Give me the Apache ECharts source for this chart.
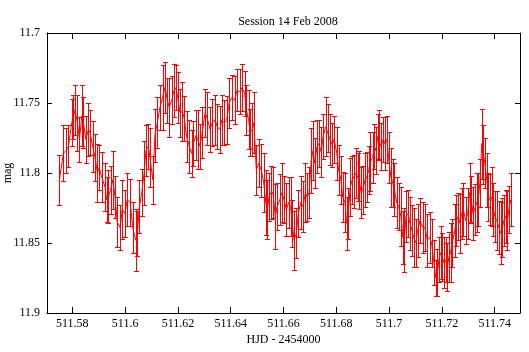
<!DOCTYPE html>
<html>
<head>
<meta charset="utf-8">
<script src="https://cdn.jsdelivr.net/npm/echarts@6/dist/echarts.min.js"></script>
<style>
  html, body { margin: 0; padding: 0; background: #fff; }
  #chart { width: 529px; height: 352px; }
</style>
</head>
<body>
<div id="chart"></div>
<script>
// HJD - 2454000
const hjd = [
  511.5751, 511.5766, 511.5776, 511.5785, 511.5798, 511.5804, 511.5810, 511.5819, 511.5827, 511.5836,
  511.5842, 511.5851, 511.5861, 511.5867, 511.5877, 511.5886, 511.5895, 511.5902, 511.5911, 511.5924,
  511.5930, 511.5936, 511.5945, 511.5953, 511.5962, 511.5970, 511.5981, 511.5989, 511.6000, 511.6008,
  511.6019, 511.6029, 511.6040, 511.6046, 511.6054, 511.6063, 511.6072, 511.6079, 511.6088, 511.6094,
  511.6105, 511.6113, 511.6122, 511.6132, 511.6142, 511.6151, 511.6160, 511.6167, 511.6177, 511.6185,
  511.6193, 511.6199, 511.6208, 511.6217, 511.6224, 511.6233, 511.6243, 511.6252, 511.6258, 511.6269,
  511.6275, 511.6284, 511.6292, 511.6303, 511.6311, 511.6322, 511.6330, 511.6341, 511.6349, 511.6359,
  511.6366, 511.6375, 511.6385, 511.6394, 511.6404, 511.6415, 511.6424, 511.6434, 511.6443, 511.6453,
  511.6459, 511.6468, 511.6474, 511.6482, 511.6488, 511.6497, 511.6506, 511.6516, 511.6525, 511.6533,
  511.6539, 511.6545, 511.6552, 511.6560, 511.6569, 511.6576, 511.6586, 511.6594, 511.6602, 511.6611,
  511.6620, 511.6627, 511.6633, 511.6640, 511.6649, 511.6656, 511.6665, 511.6674, 511.6683, 511.6689,
  511.6697, 511.6705, 511.6712, 511.6718, 511.6727, 511.6734, 511.6743, 511.6750, 511.6760, 511.6767,
  511.6776, 511.6784, 511.6792, 511.6802, 511.6809, 511.6818, 511.6824, 511.6833, 511.6839, 511.6845,
  511.6853, 511.6860, 511.6866, 511.6875, 511.6881, 511.6887, 511.6894, 511.6900, 511.6909, 511.6915,
  511.6923, 511.6929, 511.6938, 511.6944, 511.6950, 511.6957, 511.6963, 511.6969, 511.6978, 511.6984,
  511.6992, 511.6998, 511.7007, 511.7014, 511.7020, 511.7029, 511.7036, 511.7045, 511.7052, 511.7058,
  511.7064, 511.7072, 511.7079, 511.7087, 511.7093, 511.7102, 511.7108, 511.7117, 511.7128, 511.7136,
  511.7145, 511.7154, 511.7161, 511.7170, 511.7177, 511.7183, 511.7189, 511.7195, 511.7202, 511.7208,
  511.7214, 511.7220, 511.7227, 511.7233, 511.7239, 511.7249, 511.7255, 511.7262, 511.7269, 511.7275,
  511.7281, 511.7290, 511.7298, 511.7305, 511.7311, 511.7318, 511.7324, 511.7332, 511.7338, 511.7344,
  511.7351, 511.7357, 511.7363, 511.7370, 511.7376, 511.7381, 511.7389, 511.7395, 511.7401, 511.7408,
  511.7416, 511.7423, 511.7429, 511.7435, 511.7442, 511.7448, 511.7454, 511.7461
];
const mag = [
  11.805, 11.786, 11.784, 11.781, 11.764, 11.760, 11.755, 11.764, 11.776, 11.759,
  11.764, 11.776, 11.769, 11.771, 11.781, 11.789, 11.800, 11.796, 11.803, 11.810,
  11.819, 11.817, 11.812, 11.805, 11.817, 11.835, 11.839, 11.826, 11.829, 11.819,
  11.821, 11.839, 11.848, 11.843, 11.824, 11.814, 11.800, 11.784, 11.781, 11.789,
  11.805, 11.773, 11.764, 11.753, 11.746, 11.739, 11.748, 11.753, 11.748, 11.741,
  11.739, 11.746, 11.757, 11.756, 11.761, 11.774, 11.781, 11.786, 11.779, 11.773,
  11.776, 11.781, 11.771, 11.757, 11.761, 11.769, 11.764, 11.762, 11.767, 11.769,
  11.762, 11.764, 11.762, 11.750, 11.746, 11.748, 11.741, 11.742, 11.739, 11.743,
  11.755, 11.762, 11.771, 11.769, 11.764, 11.798, 11.793, 11.798, 11.807, 11.821,
  11.826, 11.817, 11.814, 11.814, 11.831, 11.824, 11.819, 11.814, 11.819, 11.826,
  11.821, 11.824, 11.836, 11.848, 11.843, 11.829, 11.821, 11.824, 11.814, 11.817,
  11.814, 11.791, 11.784, 11.793, 11.781, 11.779, 11.785, 11.774, 11.767, 11.768,
  11.776, 11.780, 11.776, 11.786, 11.798, 11.805, 11.817, 11.821, 11.836, 11.829,
  11.810, 11.805, 11.806, 11.800, 11.803, 11.805, 11.814, 11.812, 11.805, 11.803,
  11.798, 11.792, 11.789, 11.781, 11.784, 11.774, 11.773, 11.781, 11.776, 11.779,
  11.776, 11.789, 11.803, 11.807, 11.812, 11.821, 11.824, 11.831, 11.846, 11.848,
  11.831, 11.829, 11.836, 11.841, 11.846, 11.850, 11.841, 11.834, 11.839, 11.839,
  11.848, 11.846, 11.850, 11.864, 11.875, 11.871, 11.862, 11.857, 11.860, 11.864,
  11.862, 11.867, 11.860, 11.857, 11.850, 11.841, 11.834, 11.831, 11.836, 11.829,
  11.826, 11.834, 11.829, 11.814, 11.819, 11.829, 11.826, 11.821, 11.819, 11.807,
  11.779, 11.787, 11.793, 11.805, 11.817, 11.819, 11.817, 11.826, 11.831, 11.834,
  11.839, 11.843, 11.839, 11.834, 11.831, 11.834, 11.826, 11.819
];
const err = [
  0.018, 0.020, 0.016, 0.015, 0.017, 0.016, 0.018, 0.020, 0.016, 0.022,
  0.018, 0.017, 0.019, 0.016, 0.018, 0.017, 0.021, 0.016, 0.018, 0.017,
  0.016, 0.019, 0.017, 0.021, 0.015, 0.018, 0.016, 0.021, 0.017, 0.019,
  0.017, 0.018, 0.022, 0.016, 0.019, 0.017, 0.023, 0.018, 0.016, 0.021,
  0.017, 0.019, 0.018, 0.016, 0.023, 0.018, 0.016, 0.021, 0.017, 0.019,
  0.016, 0.018, 0.017, 0.021, 0.016, 0.018, 0.019, 0.017, 0.016, 0.018,
  0.021, 0.016, 0.018, 0.017, 0.019, 0.016, 0.017, 0.018, 0.016, 0.017,
  0.018, 0.016, 0.017, 0.018, 0.016, 0.017, 0.015, 0.016, 0.017, 0.016,
  0.018, 0.021, 0.017, 0.019, 0.022, 0.018, 0.017, 0.019, 0.021, 0.023,
  0.021, 0.017, 0.019, 0.018, 0.023, 0.017, 0.018, 0.021, 0.017, 0.019,
  0.018, 0.021, 0.017, 0.021, 0.018, 0.017, 0.019, 0.018, 0.021, 0.017,
  0.018, 0.023, 0.021, 0.018, 0.019, 0.017, 0.018, 0.016, 0.021, 0.017,
  0.018, 0.016, 0.017, 0.019, 0.018, 0.017, 0.018, 0.021, 0.019, 0.018,
  0.021, 0.017, 0.019, 0.018, 0.017, 0.021, 0.018, 0.017, 0.019, 0.018,
  0.017, 0.021, 0.018, 0.016, 0.017, 0.016, 0.018, 0.017, 0.016, 0.019,
  0.017, 0.018, 0.021, 0.017, 0.019, 0.018, 0.017, 0.021, 0.019, 0.023,
  0.018, 0.017, 0.019, 0.018, 0.021, 0.017, 0.019, 0.016, 0.018, 0.017,
  0.019, 0.018, 0.017, 0.016, 0.013, 0.017, 0.016, 0.019, 0.017, 0.018,
  0.016, 0.017, 0.018, 0.021, 0.017, 0.019, 0.018, 0.017, 0.021, 0.018,
  0.019, 0.017, 0.018, 0.021, 0.017, 0.019, 0.018, 0.021, 0.019, 0.017,
  0.025, 0.021, 0.018, 0.019, 0.017, 0.018, 0.021, 0.019, 0.018, 0.021,
  0.019, 0.022, 0.021, 0.018, 0.019, 0.021, 0.017, 0.019
];
const xTicks = [511.58, 511.6, 511.62, 511.64, 511.66, 511.68, 511.7, 511.72, 511.74];

const RED = "#ff0000";
const FONT = "'Liberation Serif', 'DejaVu Serif', serif";

const chart = echarts.init(document.getElementById("chart"));

const points = hjd.map((x, i) => [x, mag[i], err[i]]);

const xBase = {
  type: "value",
  min: 511.5704,
  max: 511.7496,
  splitLine: { show: false },
  axisLine: { show: true, onZero: false, lineStyle: { color: "#000", width: 1 } },
  axisTick: { show: true, inside: true, length: 6, customValues: xTicks, lineStyle: { color: "#000" } },
};
const yBase = {
  type: "value",
  inverse: true,
  min: 11.7,
  max: 11.9,
  interval: 0.05,
  splitLine: { show: false },
  axisLine: { show: true, onZero: false, lineStyle: { color: "#000", width: 1 } },
  axisTick: { show: true, inside: true, length: 5, lineStyle: { color: "#000" } },
};

chart.setOption({
  animation: false,
  backgroundColor: "#fff",
  title: {
    text: "Session 14 Feb 2008",
    left: 283,
    top: 11,
    textAlign: "center",
    textStyle: { fontFamily: FONT, fontSize: 12, fontWeight: "normal", color: "#000" },
  },
  grid: { left: 47, right: 9, top: 33, bottom: 39, outerBoundsMode: "none", containLabel: false },
  xAxis: [
    {
      ...xBase,
      position: "bottom",
      name: "HJD - 2454000",
      nameLocation: "middle",
      nameGap: 21,
      nameMoveOverlap: false,
      nameTextStyle: { fontFamily: FONT, fontSize: 12, color: "#000" },
      axisLabel: {
        customValues: xTicks,
        margin: 5,
        fontFamily: FONT,
        fontSize: 12,
        color: "#000",
      },
    },
    { ...xBase, position: "top", axisLabel: { show: false } },
  ],
  yAxis: [
    {
      ...yBase,
      position: "left",
      name: "mag",
      nameLocation: "middle",
      nameRotate: 90,
      nameGap: 33,
      nameMoveOverlap: false,
      nameTextStyle: { fontFamily: FONT, fontSize: 12, color: "#000" },
      axisLabel: { margin: 7, fontFamily: FONT, fontSize: 12, color: "#000" },
    },
    { ...yBase, position: "right", axisLabel: { show: false } },
  ],
  series: [
    {
      type: "custom",
      xAxisIndex: 0,
      yAxisIndex: 0,
      clip: true,
      silent: true,
      itemStyle: { color: RED, borderColor: RED },
      data: points,
      encode: { x: 0, y: 1 },
      renderItem: (params, api) => {
        const x = api.value(0);
        const y = api.value(1);
        const e = api.value(2);
        const a = api.coord([x, y - e]);
        const b = api.coord([x, y + e]);
        // snap to pixel centres so the 1px bars stay crisp
        const px = Math.round(a[0]) + 0.5;
        const ya = Math.round(a[1]) + 0.5;
        const yb = Math.round(b[1]) + 0.5;
        const w = 2.5;
        const d =
          "M" + px + " " + ya + "L" + px + " " + yb +
          "M" + (px - w) + " " + ya + "L" + (px + w) + " " + ya +
          "M" + (px - w) + " " + yb + "L" + (px + w) + " " + yb;
        return {
          type: "path",
          shape: { pathData: d },
          style: { stroke: RED, fill: "none", lineWidth: 1, opacity: 1 },
        };
      },
    },
    {
      type: "line",
      xAxisIndex: 0,
      yAxisIndex: 0,
      data: points.map((p) => [p[0], p[1]]),
      symbol: "none",
      lineStyle: { color: RED, width: 1 },
    },
  ],
});
</script>
</body>
</html>
